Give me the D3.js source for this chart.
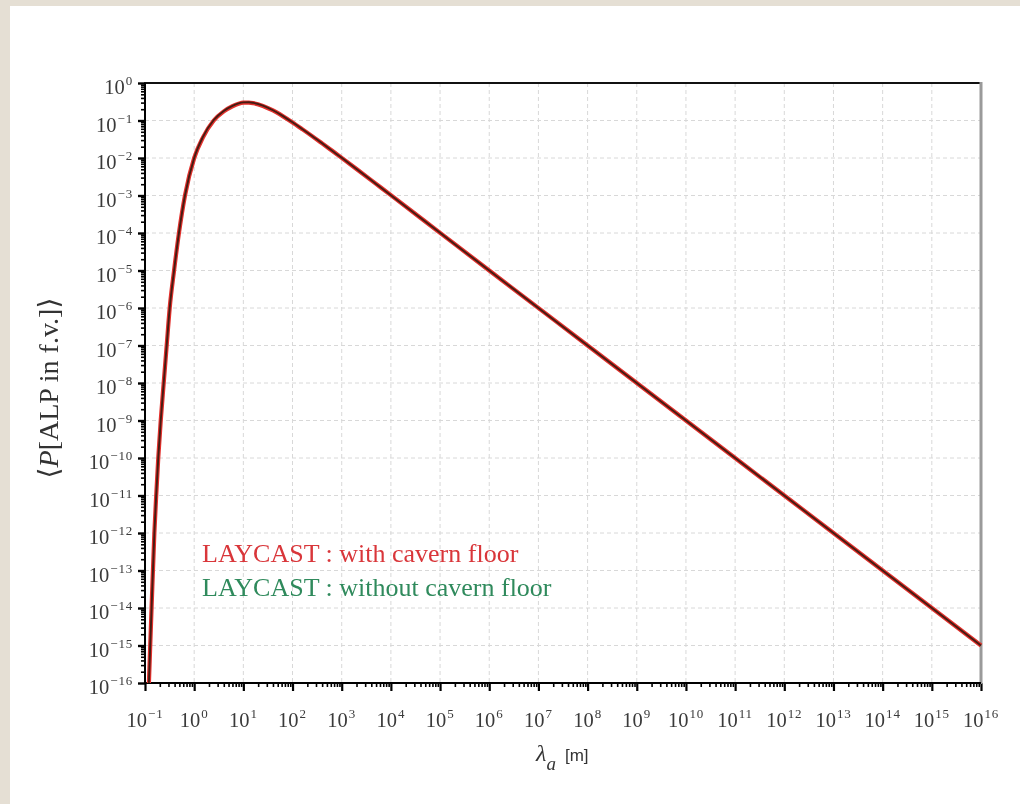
<!DOCTYPE html>
<html>
<head>
<meta charset="utf-8">
<script src="https://cdn.jsdelivr.net/npm/d3@7"></script>
<style>
  html, body { margin: 0; padding: 0; background: #e5dfd4; }
  svg { display: block; }
  text { font-family: "Liberation Serif", "DejaVu Serif", serif; }
</style>
</head>
<body>
<svg id="chart" width="1020" height="804"></svg>
<script>
// ALP decay length λ_a [m]
const lambda = [0.12, 0.136, 0.155, 0.169, 0.186, 0.209, 0.240, 0.276, 0.318, 0.39, 0.49, 0.65, 1.0, 1.5, 2.5, 4, 6, 8, 10, 13, 16, 25, 40, 63, 100, 160, 250, 400, 630, 1e3, 2e3, 5e3, 1e4, 1e5, 1e6, 1e8, 1e10, 1e12, 1e14, 1e16];
// <P[ALP in f.v.]> with the cavern floor included
const probWithFloor = [1e-16, 1e-14, 1e-12, 1e-11, 1e-10, 1e-9, 1e-8, 1e-7, 1e-6, 1e-5, 1e-4, 1e-3, 1e-2, 0.035, 0.1, 0.175, 0.24, 0.28, 0.298, 0.300, 0.29, 0.245, 0.185, 0.131, 0.0887, 0.058, 0.0384, 0.0245, 0.0158, 0.0101, 0.0051, 0.00204, 1.02e-3, 1.01e-4, 1e-5, 1e-7, 1e-9, 1e-11, 1e-13, 1e-15];
// <P[ALP in f.v.]> without the cavern floor
const probWithoutFloor = [1e-16, 1e-14, 1e-12, 1e-11, 1e-10, 1e-9, 1e-8, 1e-7, 1e-6, 1e-5, 1e-4, 1e-3, 1e-2, 0.036, 0.103, 0.18, 0.246, 0.287, 0.305, 0.307, 0.296, 0.249, 0.188, 0.133, 0.0895, 0.0584, 0.0386, 0.0246, 0.0158, 0.0101, 0.0051, 0.00204, 1.02e-3, 1.01e-4, 1e-5, 1e-7, 1e-9, 1e-11, 1e-13, 1e-15];

const xTickExps = d3.range(-1, 17);   // 10^-1 … 10^16
const yTickExps = d3.range(-16, 1);   // 10^-16 … 10^0

const legendLabels = ["LAYCAST : with cavern floor", "LAYCAST : without cavern floor"];
const seriesColors = ["#e3302c", "#1f7a44"];
const legendColors = ["#d9363a", "#2f8a5c"];

const svg = d3.select("#chart");

// white page panel
svg.append("rect").attr("x", 10).attr("y", 6).attr("width", 1010).attr("height", 798).attr("fill", "#ffffff");

const plotL = 145, plotR = 981, plotT = 83, plotB = 683;

const x = d3.scaleLog().domain([1e-1, 1e16]).range([plotL, plotR]);
const y = d3.scaleLog().domain([1e-16, 1]).range([plotB, plotT]);

// dashed grid at every decade
const grid = svg.append("g").attr("stroke", "#d8d8d8").attr("stroke-width", 1).attr("stroke-dasharray", "4,3");
xTickExps.slice(1, -1).forEach(e => {
  grid.append("line").attr("x1", x(10 ** e)).attr("x2", x(10 ** e)).attr("y1", plotT).attr("y2", plotB);
});
yTickExps.slice(1, -1).forEach(e => {
  grid.append("line").attr("x1", plotL).attr("x2", plotR).attr("y1", y(10 ** e)).attr("y2", y(10 ** e));
});

// minor tick values (2..9 of each decade)
function minors(lo, hi) {
  const out = [];
  for (let e = lo; e < hi; e++) for (let m = 2; m <= 9; m++) out.push(m * 10 ** e);
  return out;
}

// bottom axis
const xAxisMajor = d3.axisBottom(x).tickValues(xTickExps.map(e => 10 ** e)).tickSize(8).tickFormat("");
const xAxisMinor = d3.axisBottom(x).tickValues(minors(-1, 16)).tickSize(4).tickFormat("");
const gxMin = svg.append("g").attr("transform", `translate(0,${plotB})`).call(xAxisMinor);
const gx = svg.append("g").attr("transform", `translate(0,${plotB})`).call(xAxisMajor);
[gx, gxMin].forEach(g => {
  g.select(".domain").remove();
  g.selectAll("line").attr("stroke", "#000").attr("stroke-width", 1.6);
});
gx.selectAll("line").attr("stroke-width", 2.2);

// left axis
const yAxisMajor = d3.axisLeft(y).tickValues(yTickExps.map(e => 10 ** e)).tickSize(7).tickFormat("");
const yAxisMinor = d3.axisLeft(y).tickValues(minors(-16, 0)).tickSize(4).tickFormat("");
const gyMin = svg.append("g").attr("transform", `translate(${plotL},0)`).call(yAxisMinor);
const gy = svg.append("g").attr("transform", `translate(${plotL},0)`).call(yAxisMajor);
[gy, gyMin].forEach(g => {
  g.select(".domain").remove();
  g.selectAll("line").attr("stroke", "#000").attr("stroke-width", 1.6);
});
gy.selectAll("line").attr("stroke-width", 2.4);

// frame
svg.append("line").attr("x1", plotL - 1).attr("x2", plotR).attr("y1", plotT).attr("y2", plotT).attr("stroke", "#111").attr("stroke-width", 2.2);
svg.append("line").attr("x1", plotR).attr("x2", plotR).attr("y1", plotT - 1).attr("y2", plotB + 1).attr("stroke", "#9a9a9a").attr("stroke-width", 3);
svg.append("line").attr("x1", plotL).attr("x2", plotL).attr("y1", plotT).attr("y2", plotB + 1).attr("stroke", "#000").attr("stroke-width", 2);
svg.append("line").attr("x1", plotL).attr("x2", plotR).attr("y1", plotB).attr("y2", plotB).attr("stroke", "#000").attr("stroke-width", 2);

// tick labels as 10^n
function powLabel(sel, e) {
  sel.append("tspan").text("10").attr("font-size", 20.5);
  sel.append("tspan").text(String(e).replace("-", "\u2212")).attr("font-size", 13).attr("letter-spacing", 0.8).attr("dx", 1).attr("dy", -9);
}
xTickExps.forEach(e => {
  const t = svg.append("text").attr("x", x(10 ** e)).attr("y", 727).attr("text-anchor", "middle").attr("fill", "#3a3a3a");
  powLabel(t, e);
});
yTickExps.forEach(e => {
  const t = svg.append("text").attr("x", 133).attr("y", y(10 ** e) + 11).attr("text-anchor", "end").attr("fill", "#3a3a3a");
  powLabel(t, e);
});

// curves
const line = d3.line().x(d => x(d[0])).y(d => y(d[1])).curve(d3.curveMonotoneX);
svg.append("path").datum(lambda.map((l, i) => [l, probWithFloor[i]]))
  .attr("d", line).attr("fill", "none").attr("stroke", seriesColors[0]).attr("stroke-width", 4.2);
svg.append("path").datum(lambda.map((l, i) => [l, probWithoutFloor[i]]))
  .attr("d", line).attr("fill", "none").attr("stroke", seriesColors[1]).attr("stroke-width", 1.9)
  .attr("opacity", 0.8).style("mix-blend-mode", "multiply");

// legend
legendLabels.forEach((s, i) => {
  svg.append("text").attr("x", 202).attr("y", 562 + i * 34).attr("font-size", 26).attr("fill", legendColors[i]).text(s);
});

// x axis title
const xt = svg.append("text").attr("x", 536).attr("y", 761).attr("fill", "#333");
xt.append("tspan").text("λ").attr("font-style", "italic").attr("font-size", 24);
xt.append("tspan").text("a").attr("font-style", "italic").attr("font-size", 19).attr("dy", 9);
xt.append("tspan").text("[m]").attr("font-family", "'Liberation Sans', sans-serif").attr("font-size", 17).attr("dx", 9).attr("dy", -9);

// y axis title
const yt = svg.append("text").attr("transform", "translate(58,388) rotate(-90)").attr("text-anchor", "middle").attr("font-size", 28).attr("fill", "#333");
yt.append("tspan").text("\u27E8");
yt.append("tspan").text("P").attr("font-style", "italic");
yt.append("tspan").text("[ALP in f.v.]");
yt.append("tspan").text("\u27E9");
</script>
</body>
</html>
